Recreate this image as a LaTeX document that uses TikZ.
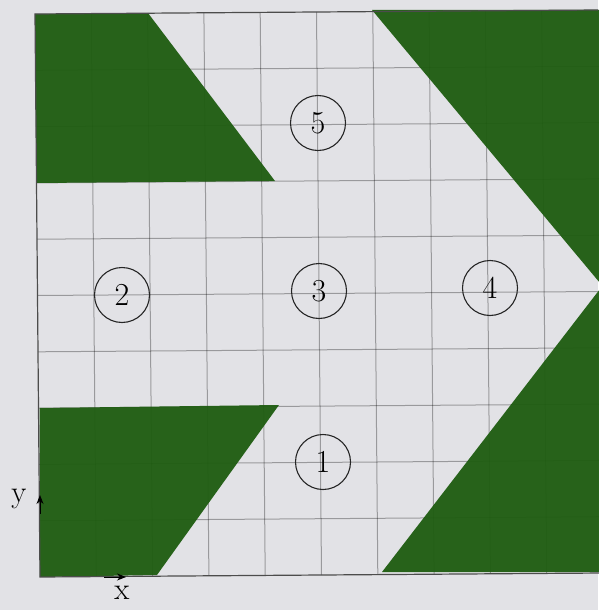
\documentclass[tikz,border=0pt]{standalone}
\usepackage{fontspec}
\usetikzlibrary{arrows.meta}
\definecolor{bg}{RGB}{226,226,230}
\definecolor{leaf}{RGB}{30,92,16}
\begin{document}
\begin{tikzpicture}[x=1pt,y=-1pt,
  gridline/.style={draw=black,draw opacity=0.32,line width=1pt},
  greenpart/.style={fill=leaf,fill opacity=0.95,draw=none},
  frameline/.style={draw=black!70,line width=1.2pt},
  numcircle/.style={circle,draw=black!85,line width=1.1pt,minimum size=55pt,inner sep=0pt,font=\fontsize{32}{38}\selectfont},
  axislabel/.style={font=\fontsize{31}{36}\selectfont},
  axisarrow/.style={-{Stealth[length=9pt,width=7pt]},line width=1pt,draw=black}]
\useasboundingbox (0,0) rectangle (598,610);
\fill[bg] (0,0) rectangle (598,610);
% grid
\foreach \k in {1,...,9}
  \draw[gridline] ({35+56.3*\k},{14-0.4*\k}) -- ({40+56.3*\k},{577-0.4*\k});
\foreach \j in {1,...,9}
  \draw[gridline] ({35+0.5*\j},{14+56.3*\j}) -- ({598+0.5*\j},{10+56.3*\j});
% green parts
\fill[greenpart] (35,14) -- (148,13) -- (275,181) -- (36.5,183) -- cycle;
\fill[greenpart] (372,10) -- (600,10) -- (600,283) -- cycle;
\fill[greenpart] (382,572) -- (600,572) -- (600,289) -- cycle;
\fill[greenpart] (39.5,408) -- (279,405) -- (157,575) -- (40,577) -- cycle;
% frame
\draw[frameline] (598,10) -- (35,14) -- (40,577) -- (603,573);
% numbered circles
\node[numcircle] (n5) at (318,123) {5};
\node[numcircle] (n2) at (122,295) {2};
\node[numcircle] (n3) at (319,291) {3};
\node[numcircle] (n4) at (490,288) {4};
\node[numcircle] (n1) at (323,462) {1};
% axes
\coordinate (yb) at (40,514);
\coordinate (yt) at (40,495);
\draw[axisarrow] (yb) -- (yt);
\node[axislabel] (ylab) at (19,499) {y};
\coordinate (xb) at (104,577);
\coordinate (xt) at (126,577);
\draw[axisarrow] (xb) -- (xt);
\node[axislabel] (xlab) at (122,593) {x};
\end{tikzpicture}
\end{document}
